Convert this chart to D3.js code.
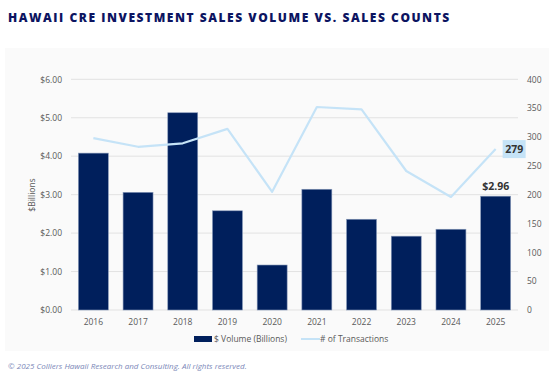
<!DOCTYPE html>
<html><head><meta charset="utf-8">
<script src="https://cdn.jsdelivr.net/npm/d3@7"></script>
<style>
html,body{margin:0;padding:0;background:#fff;}
svg{display:block;font-family:"Open Sans",sans-serif;}
</style></head>
<body><svg id="c" width="558" height="384"></svg>
<script>
const years = ["2016","2017","2018","2019","2020","2021","2022","2023","2024","2025"];
const volume = [4.08, 3.06, 5.13, 2.58, 1.17, 3.14, 2.36, 1.92, 2.10, 2.96];
const transactions = [298, 283, 289, 314, 205, 352, 348, 241, 196, 279];
const leftTicks = [0,1,2,3,4,5,6];
const rightTicks = [0,50,100,150,200,250,300,350,400];

const svg = d3.select("#c");
const m = {l:71, r:518, t:79.3, b:310};

svg.append("rect").attr("x",5).attr("y",48).attr("width",544).attr("height",303).attr("fill","#fafafa");

svg.append("text").attr("x",8).attr("y",22)
  .attr("font-family","'Open Sans',sans-serif").attr("font-weight",800).attr("font-size",12)
  .attr("letter-spacing","1.55px").attr("fill","#0c1461")
  .text("HAWAII CRE INVESTMENT SALES VOLUME VS. SALES COUNTS");

const x = d3.scaleBand().domain(years).range([m.l,m.r]).paddingInner(0.33).paddingOuter(0.165);
const yL = d3.scaleLinear().domain([0,6]).range([m.b,m.t]);
const yR = d3.scaleLinear().domain([0,400]).range([m.b,m.t]);

// gridlines
svg.append("g").selectAll("line").data(leftTicks).join("line")
  .attr("x1",m.l).attr("x2",m.r).attr("y1",d=>yL(d)).attr("y2",d=>yL(d))
  .attr("stroke","#e2e2e2").attr("stroke-width",1);

// left axis
const la = svg.append("g").attr("transform",`translate(${m.l},0)`)
  .call(d3.axisLeft(yL).tickValues(leftTicks).tickSize(0).tickPadding(9).tickFormat(d=>"$"+d3.format(".2f")(d)));
la.select(".domain").remove();
la.selectAll("text").attr("font-size",8.5).attr("fill","#595959").attr("font-family","'Open Sans',sans-serif");

// right axis
const ra = svg.append("g").attr("transform",`translate(${m.r},0)`)
  .call(d3.axisRight(yR).tickValues(rightTicks).tickSize(0).tickPadding(9));
ra.select(".domain").remove();
ra.selectAll("text").attr("font-size",8.5).attr("fill","#595959").attr("font-family","'Open Sans',sans-serif");

// x axis
const xa = svg.append("g").attr("transform",`translate(0,${m.b})`)
  .call(d3.axisBottom(x).tickSize(0).tickPadding(9));
xa.select(".domain").remove();
xa.selectAll("text").attr("font-size",8.5).attr("fill","#595959").attr("font-family","'Open Sans',sans-serif");

// y title
svg.append("text").attr("transform","translate(35,195) rotate(-90)").attr("text-anchor","middle")
  .attr("font-size",8.5).attr("fill","#595959").text("$Billions");

// bars
svg.append("g").selectAll("rect").data(years).join("rect")
  .attr("x",d=>x(d)).attr("width",x.bandwidth())
  .attr("y",(d,i)=>yL(volume[i])).attr("height",(d,i)=>yL(0)-yL(volume[i]))
  .attr("fill","#001f5c").attr("stroke","#8497b8").attr("stroke-width",0.6);

// line
const line = d3.line().x((d,i)=>x(years[i])+x.bandwidth()/2).y(d=>yR(d));
svg.append("path").datum(transactions).attr("d",line)
  .attr("fill","none").attr("stroke","#c5e3f7").attr("stroke-width",2.2).attr("stroke-linejoin","round");

// labels
const li = years.length-1;
const lx = x(years[li])+x.bandwidth()/2;
svg.append("text").attr("x",lx).attr("y",yL(volume[li])-6).attr("text-anchor","middle")
  .attr("font-size",10.5).attr("font-weight",700).attr("fill","#333")
  .text("$"+d3.format(".2f")(volume[li]));
const ty = yR(transactions[li]);
svg.append("rect").attr("x",lx+7).attr("y",ty-9).attr("width",23).attr("height",18).attr("fill","#c5e3f7");
svg.append("text").attr("x",lx+18.5).attr("y",ty+4).attr("text-anchor","middle")
  .attr("font-size",10.5).attr("font-weight",700).attr("fill","#333").text(transactions[li]);

// legend
const lg = svg.append("g");
lg.append("rect").attr("x",194).attr("y",336).attr("width",18).attr("height",6).attr("fill","#001f5c");
lg.append("text").attr("x",214).attr("y",342).attr("font-size",8.5).attr("fill","#595959").text("$ Volume (Billions)");
lg.append("line").attr("x1",301).attr("x2",320).attr("y1",339).attr("y2",339).attr("stroke","#c5e3f7").attr("stroke-width",2);
lg.append("text").attr("x",320).attr("y",342).attr("font-size",8.5).attr("fill","#595959").text("# of Transactions");

// footer
svg.append("text").attr("x",8).attr("y",369).attr("font-size",8).attr("font-style","italic")
  .attr("fill","#7b87b8").text("© 2025 Colliers Hawaii Research and Consulting. All rights reserved.");
</script></body></html>
